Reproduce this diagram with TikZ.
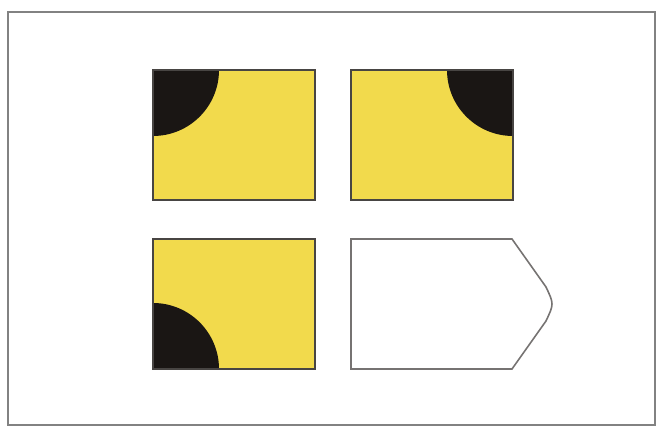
\documentclass[tikz,border=0pt]{standalone}
\definecolor{tileyellow}{RGB}{242,218,76}
\definecolor{tileblack}{RGB}{26,22,20}
\definecolor{framegray}{RGB}{130,130,130}

\begin{document}
\begin{tikzpicture}[tile/.style={draw=tileblack!80, line width=0.9pt, fill=tileyellow},
                    blob/.style={fill=tileblack}]

    \useasboundingbox (0,0) rectangle (13.14,8.58);

    % frame
    \draw[framegray, line width=1.2pt] (0.16,0.08) rectangle (13.1,8.34);

\begin{scope}[shift={(3.06,4.58)}]

    % yellow tile, black corner top left
    \fill[tileyellow] (0,0) rectangle (3.24,2.6);
    \fill[blob] (0,2.6) -- (1.32,2.6) arc[start angle=0, end angle=-90, radius=1.32cm] -- cycle;
    \draw[tile, fill=none] (0,0) rectangle (3.24,2.6);

\end{scope}
\begin{scope}[shift={(7.02,4.58)}]

    % yellow tile, black corner top right
    \fill[tileyellow] (0,0) rectangle (3.24,2.6);
    \fill[blob] (3.24,2.6) -- (1.92,2.6) arc[start angle=180, end angle=270, radius=1.32cm] -- cycle;
    \draw[tile, fill=none] (0,0) rectangle (3.24,2.6);

\end{scope}
\begin{scope}[shift={(3.06,1.2)}]

    % yellow tile, black corner bottom left
    \fill[tileyellow] (0,0) rectangle (3.24,2.6);
    \fill[blob] (0,0) -- (0,1.32) arc[start angle=90, end angle=0, radius=1.32cm] -- cycle;
    \draw[tile, fill=none] (0,0) rectangle (3.24,2.6);

\end{scope}
\begin{scope}[shift={(7.02,1.2)}]

    % white tile with pointed end
    \draw[draw=tileblack!60, line width=0.9pt, fill=white]
        (0,0) -- (0,2.6) -- (3.22,2.6) -- (3.9,1.64)
        .. controls (4.06,1.3) .. (3.9,0.96) -- (3.22,0) -- cycle;

\end{scope}
\end{tikzpicture}
\end{document}
